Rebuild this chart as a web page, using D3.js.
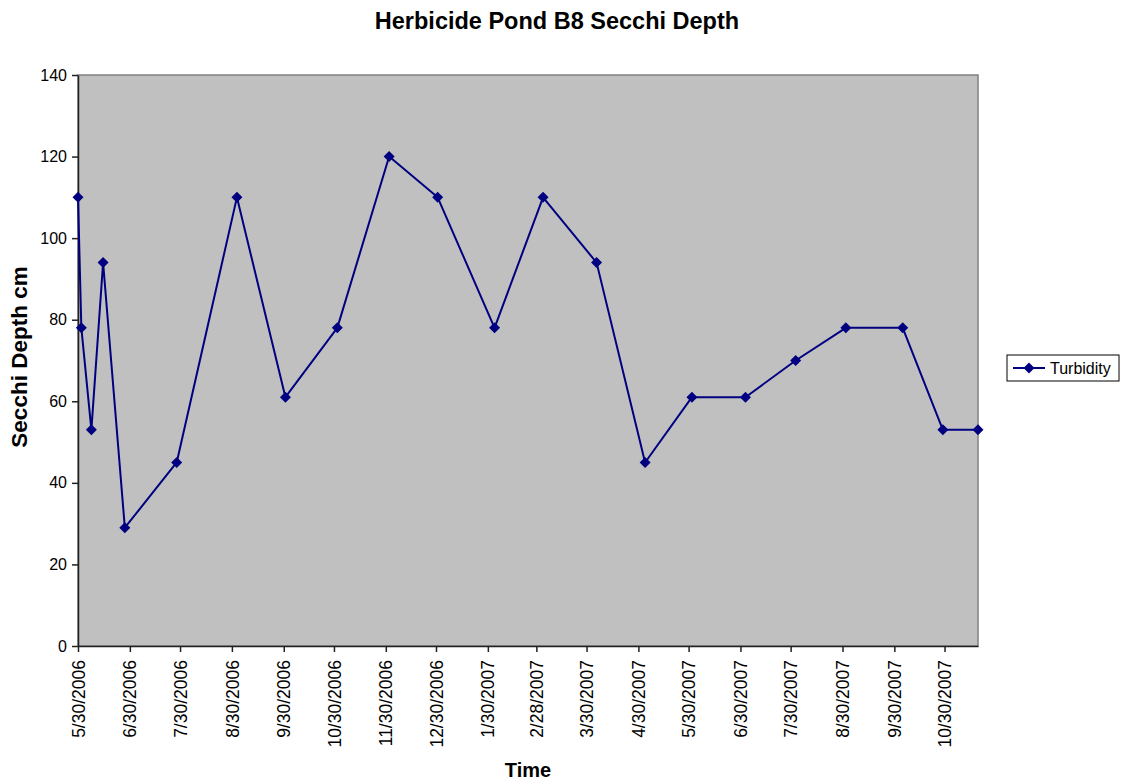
<!DOCTYPE html>
<html>
<head>
<meta charset="utf-8">
<script src="https://cdn.jsdelivr.net/npm/d3@7"></script>
<style>
  html, body { margin: 0; padding: 0; background: #ffffff; }
  svg { display: block; font-family: Arial, "Liberation Sans", sans-serif; }
</style>
</head>
<body>
<svg id="chart" width="1123" height="784"></svg>
<script>
// Secchi depth readings at Herbicide Pond B8
const sampleDates = [
  "5/30/2006", "6/1/2006", "6/7/2006", "6/14/2006", "6/27/2006", "7/28/2006",
  "9/2/2006", "10/1/2006", "11/1/2006", "12/2/2006", "12/31/2006", "2/3/2007",
  "3/4/2007", "4/5/2007", "5/4/2007", "6/1/2007", "7/3/2007", "8/2/2007",
  "9/1/2007", "10/5/2007", "10/29/2007", "11/19/2007"
];
const turbidity = [
  110, 78, 53, 94, 29, 45,
  110, 61, 78, 120, 110, 78,
  110, 94, 45, 61, 61, 70,
  78, 78, 53, 53
];
const xTickLabels = [
  "5/30/2006", "6/30/2006", "7/30/2006", "8/30/2006", "9/30/2006", "10/30/2006",
  "11/30/2006", "12/30/2006", "1/30/2007", "2/28/2007", "3/30/2007", "4/30/2007",
  "5/30/2007", "6/30/2007", "7/30/2007", "8/30/2007", "9/30/2007", "10/30/2007"
];
const yTickValues = [0, 20, 40, 60, 80, 100, 120, 140];
const seriesName = "Turbidity";

const parse = d3.timeParse("%m/%d/%Y");
const points = sampleDates.map((d, i) => ({ date: parse(d), value: turbidity[i] }));
const xTicks = xTickLabels.map(parse);

const svg = d3.select("#chart");
const plot = { left: 78, right: 978, top: 75, bottom: 646 };
const navy = "#000080";

const x = d3.scaleTime()
  .domain([points[0].date, points[points.length - 1].date])
  .range([plot.left, plot.right]);
const y = d3.scaleLinear()
  .domain([0, 140])
  .range([plot.bottom, plot.top]);

// plot area background and frame
svg.append("rect")
  .attr("x", plot.left).attr("y", plot.top)
  .attr("width", plot.right - plot.left).attr("height", plot.bottom - plot.top)
  .attr("fill", "#c0c0c0")
  .attr("stroke", "#808080").attr("stroke-width", 1.5);

// y axis
const yAxis = svg.append("g")
  .attr("transform", `translate(${plot.left},0)`)
  .call(d3.axisLeft(y).tickValues(yTickValues).tickSize(6).tickPadding(5).tickSizeOuter(0));
yAxis.select(".domain").attr("stroke", "#222").attr("stroke-width", 1.5);
yAxis.selectAll(".tick line").attr("stroke", "#222").attr("stroke-width", 1.5);
yAxis.selectAll(".tick text")
  .attr("font-size", 16).attr("fill", "#000")
  .attr("font-family", "Arial, 'Liberation Sans', sans-serif");

// x axis
const xAxis = svg.append("g")
  .attr("transform", `translate(0,${plot.bottom})`)
  .call(d3.axisBottom(x).tickValues(xTicks).tickSize(6).tickSizeOuter(0)
    .tickFormat((d, i) => xTickLabels[i]));
xAxis.select(".domain").attr("stroke", "#222").attr("stroke-width", 1.5);
xAxis.selectAll(".tick line").attr("stroke", "#222").attr("stroke-width", 1.5);
xAxis.selectAll(".tick text")
  .attr("font-size", 17.5).attr("fill", "#000")
  .attr("font-family", "Arial, 'Liberation Sans', sans-serif")
  .attr("text-anchor", "end")
  .attr("transform", "rotate(-90)")
  .attr("x", -14).attr("y", 0).attr("dy", "0.35em");

// series line and diamond markers
const diamond = "M0,-5.5L5.5,0L0,5.5L-5.5,0Z";
svg.append("path")
  .datum(points)
  .attr("fill", "none")
  .attr("stroke", navy)
  .attr("stroke-width", 2)
  .attr("stroke-linejoin", "round")
  .attr("d", d3.line().x(d => x(d.date)).y(d => y(d.value)));
svg.append("g").selectAll("path")
  .data(points)
  .join("path")
  .attr("d", diamond)
  .attr("fill", navy)
  .attr("transform", d => `translate(${x(d.date)},${y(d.value)})`);

// titles
svg.append("text")
  .attr("x", 557).attr("y", 29)
  .attr("text-anchor", "middle")
  .attr("font-size", 23.5).attr("font-weight", "bold")
  .text("Herbicide Pond B8 Secchi Depth");
svg.append("text")
  .attr("x", 528).attr("y", 777)
  .attr("text-anchor", "middle")
  .attr("font-size", 20).attr("font-weight", "bold")
  .text("Time");
svg.append("text")
  .attr("transform", "translate(27,357) rotate(-90)")
  .attr("text-anchor", "middle")
  .attr("font-size", 22.5).attr("font-weight", "bold")
  .text("Secchi Depth cm");

// legend
const legend = svg.append("g").attr("transform", "translate(1007,355)");
legend.append("rect")
  .attr("width", 112).attr("height", 26)
  .attr("fill", "#fff").attr("stroke", "#000").attr("stroke-width", 1);
legend.append("line")
  .attr("x1", 6).attr("x2", 38).attr("y1", 13).attr("y2", 13)
  .attr("stroke", navy).attr("stroke-width", 2);
legend.append("path")
  .attr("d", diamond).attr("fill", navy)
  .attr("transform", "translate(22,13)");
legend.append("text")
  .attr("x", 43).attr("y", 13).attr("dy", "0.35em")
  .attr("font-size", 16)
  .text(seriesName);
</script>
</body>
</html>
